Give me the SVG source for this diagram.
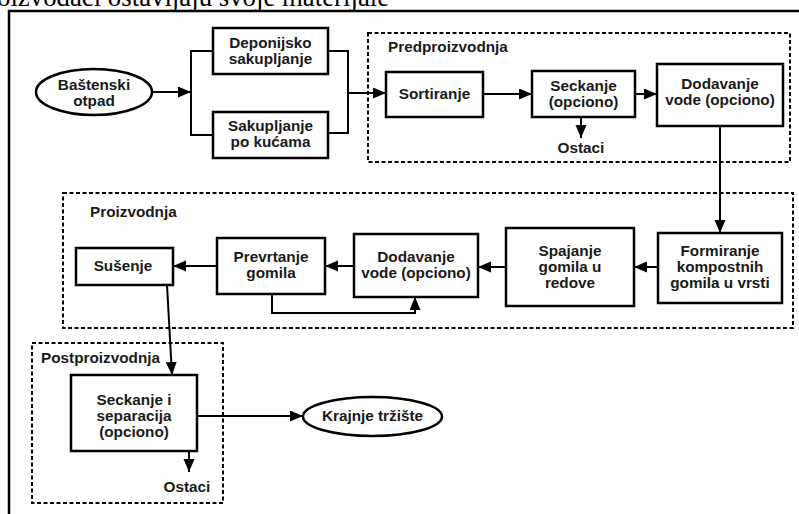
<svg xmlns="http://www.w3.org/2000/svg" width="799" height="514" viewBox="0 0 799 514">
<defs>
<style>
.box{fill:#fff;stroke:#000;stroke-width:2.5}
.grp{fill:none;stroke:#000;stroke-width:2;stroke-dasharray:4,2.5}
.ln{fill:none;stroke:#000;stroke-width:2}
.t{font-family:"Liberation Sans",Arial,sans-serif;font-weight:bold;font-size:15.3px;fill:#1a1a1a;text-anchor:middle}
.lbl{font-family:"Liberation Sans",Arial,sans-serif;font-weight:bold;font-size:15.3px;fill:#1a1a1a}
</style>
<marker id="ah" markerUnits="userSpaceOnUse" markerWidth="14" markerHeight="12" refX="13" refY="5.5" orient="auto">
<path d="M0,0 L13,5.5 L0,11 z" fill="#000"/>
</marker>
</defs>
<rect width="799" height="514" fill="#fff"/>
<text x="-3" y="6" style="font-family:'Liberation Serif','Times New Roman',serif;font-size:26.8px;fill:#000">oizvođači ostavljaju svoje materijale</text>
<path d="M9,514 V11 H799" fill="none" stroke="#000" stroke-width="2.5"/>

<g id="groups">
<rect class="grp" x="368" y="33" width="422" height="129"/>
<text class="lbl" x="388" y="52">Predproizvodnja</text>
<rect class="grp" x="63" y="193" width="730" height="135"/>
<text class="lbl" x="90" y="217">Proizvodnja</text>
<rect class="grp" x="32" y="343" width="191" height="160"/>
<text class="lbl" x="41" y="363">Postproizvodnja</text>
</g>

<g id="connectors">
<line class="ln" x1="152" y1="92" x2="191" y2="92" marker-end="url(#ah)"/>
<path class="ln" d="M213,51 H191 V135 H213"/>
<path class="ln" d="M328,51 H348 V133 H328"/>
<line class="ln" x1="348" y1="93" x2="386" y2="93" marker-end="url(#ah)"/>
<line class="ln" x1="483" y1="94" x2="532" y2="94" marker-end="url(#ah)"/>
<line class="ln" x1="635" y1="94" x2="657" y2="94" marker-end="url(#ah)"/>
<line class="ln" x1="581" y1="117" x2="581" y2="138" marker-end="url(#ah)"/>
<line class="ln" x1="720" y1="126" x2="720" y2="233" marker-end="url(#ah)"/>
<line class="ln" x1="658" y1="267" x2="634" y2="267" marker-end="url(#ah)"/>
<line class="ln" x1="506" y1="267" x2="478" y2="267" marker-end="url(#ah)"/>
<line class="ln" x1="354" y1="266" x2="325" y2="266" marker-end="url(#ah)"/>
<line class="ln" x1="217" y1="266" x2="173" y2="266" marker-end="url(#ah)"/>
<path class="ln" d="M272,294 V313 H415 V297" marker-end="url(#ah)"/>
<line class="ln" x1="167" y1="285" x2="172" y2="375" marker-end="url(#ah)"/>
<line class="ln" x1="197" y1="416" x2="303" y2="416" marker-end="url(#ah)"/>
<line class="ln" x1="189" y1="451" x2="189" y2="472" marker-end="url(#ah)"/>
</g>

<g id="n-bastenski">
<ellipse class="box" cx="94" cy="92" rx="58" ry="23"/>
<text class="t" x="94" y="90">Baštenski</text>
<text class="t" x="94" y="106">otpad</text>
</g>
<g id="n-deponijsko">
<rect class="box" x="213" y="28" width="115" height="46"/>
<text class="t" x="270.5" y="48">Deponijsko</text>
<text class="t" x="270.5" y="64">sakupljanje</text>
</g>
<g id="n-sakupljanje">
<rect class="box" x="213" y="112" width="115" height="46"/>
<text class="t" x="270.5" y="131">Sakupljanje</text>
<text class="t" x="270.5" y="147">po kućama</text>
</g>
<g id="n-sortiranje">
<rect class="box" x="386" y="72" width="97" height="45"/>
<text class="t" x="434.5" y="99">Sortiranje</text>
</g>
<g id="n-seckanje">
<rect class="box" x="532" y="71" width="103" height="46"/>
<text class="t" x="583.5" y="91">Seckanje</text>
<text class="t" x="583.5" y="107">(opciono)</text>
</g>
<g id="n-ostaci1">
<text class="t" x="581" y="153">Ostaci</text>
</g>
<g id="n-dodavanje1">
<rect class="box" x="657" y="64" width="126" height="62"/>
<text class="t" x="720" y="89">Dodavanje</text>
<text class="t" x="720" y="105">vode (opciono)</text>
</g>
<g id="n-formiranje">
<rect class="box" x="658" y="233" width="124" height="70"/>
<text class="t" x="720" y="256">Formiranje</text>
<text class="t" x="720" y="272">kompostnih</text>
<text class="t" x="720" y="288">gomila u vrsti</text>
</g>
<g id="n-spajanje">
<rect class="box" x="506" y="228" width="128" height="78"/>
<text class="t" x="570" y="256">Spajanje</text>
<text class="t" x="570" y="272">gomila u</text>
<text class="t" x="570" y="288">redove</text>
</g>
<g id="n-dodavanje2">
<rect class="box" x="354" y="234" width="124" height="63"/>
<text class="t" x="416" y="262">Dodavanje</text>
<text class="t" x="416" y="278">vode (opciono)</text>
</g>
<g id="n-prevrtanje">
<rect class="box" x="217" y="238" width="108" height="56"/>
<text class="t" x="271" y="262">Prevrtanje</text>
<text class="t" x="271" y="278">gomila</text>
</g>
<g id="n-susenje">
<rect class="box" x="76" y="248" width="97" height="37"/>
<text class="t" x="123" y="271">Sušenje</text>
</g>
<g id="n-seckanje2">
<rect class="box" x="71" y="375" width="126" height="76"/>
<text class="t" x="134" y="405">Seckanje i</text>
<text class="t" x="134" y="421">separacija</text>
<text class="t" x="134" y="437">(opciono)</text>
</g>
<g id="n-ostaci2">
<text class="t" x="187" y="492">Ostaci</text>
</g>
<g id="n-krajnje">
<ellipse class="box" cx="372.5" cy="416.5" rx="69.5" ry="19.5"/>
<text class="t" x="372.5" y="421">Krajnje tržište</text>
</g>
</svg>
